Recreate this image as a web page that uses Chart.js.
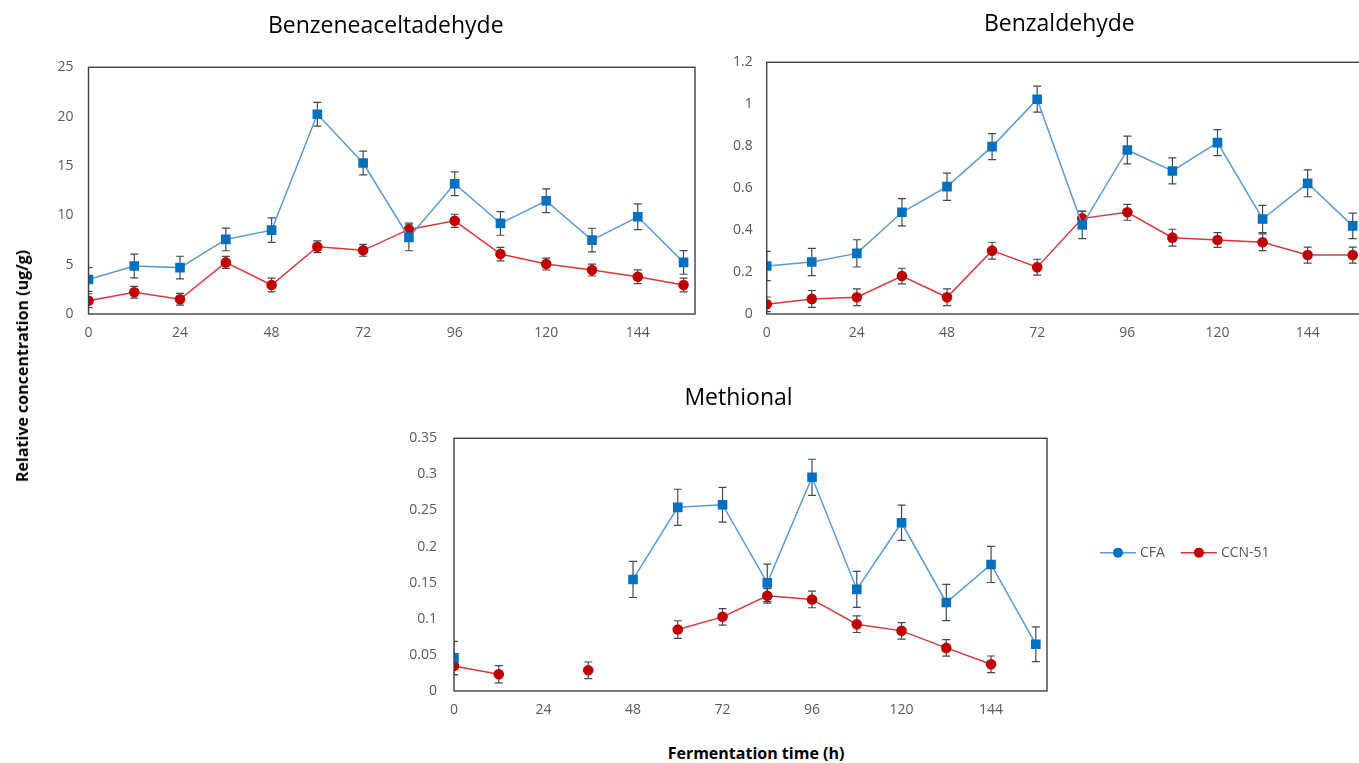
<!DOCTYPE html>
<html>
<head>
<meta charset="utf-8">
<script src="https://cdn.jsdelivr.net/npm/chart.js@4.4.1/dist/chart.umd.min.js"></script>
<style>
  html, body { margin: 0; padding: 0; background: #fff; }
  body { width: 1359px; height: 763px; position: relative; overflow: hidden; font-family: "Open Sans", sans-serif; }
  canvas { position: absolute; }
  .axis-title { position: absolute; font-weight: bold; font-size: 16px; color: #000; white-space: nowrap; }
  #ytitle { left: 22px; top: 366px; transform: translate(-50%, -50%) rotate(-90deg); }
  #xtitle { left: 756px; top: 753px; transform: translate(-50%, -50%); }
</style>
</head>
<body>
<canvas id="c1" width="720" height="350" style="left:0px;top:0px"></canvas>
<canvas id="c2" width="710" height="350" style="left:680px;top:0px"></canvas>
<canvas id="c3" width="979" height="357" style="left:380px;top:370px"></canvas>
<div class="axis-title" id="ytitle">Relative concentration (ug/g)</div>
<div class="axis-title" id="xtitle">Fermentation time (h)</div>
<script>
// sampling times (h)
const hours = [0, 12, 24, 36, 48, 60, 72, 84, 96, 108, 120, 132, 144, 156]
const xTicks = [0, 24, 48, 72, 96, 120, 144]

// Benzeneaceltadehyde
const bzaCFA = [3.5, 4.86, 4.7, 7.56, 8.5, 20.24, 15.3, 7.76, 13.2, 9.18, 11.47, 7.49, 9.85, 5.23]
const bzaCFAerr = [1.2, 1.2, 1.15, 1.15, 1.25, 1.2, 1.2, 1.35, 1.2, 1.2, 1.2, 1.2, 1.3, 1.2]
const bzaCCN = [1.35, 2.2, 1.49, 5.23, 2.94, 6.81, 6.45, 8.57, 9.44, 6.07, 5.06, 4.45, 3.78, 2.94]
const bzaCCNerr = [0.7, 0.6, 0.6, 0.6, 0.7, 0.6, 0.6, 0.65, 0.67, 0.68, 0.6, 0.6, 0.7, 0.7]

// Benzaldehyde
const bzCFA = [0.229, 0.248, 0.289, 0.485, 0.607, 0.798, 1.024, 0.424, 0.782, 0.682, 0.817, 0.453, 0.623, 0.42]
const bzCFAerr = [0.07, 0.065, 0.065, 0.065, 0.065, 0.062, 0.062, 0.065, 0.066, 0.062, 0.062, 0.065, 0.064, 0.061]
const bzCCN = [0.046, 0.072, 0.08, 0.181, 0.08, 0.302, 0.223, 0.456, 0.485, 0.364, 0.353, 0.342, 0.281, 0.281]
const bzCCNerr = [0.035, 0.04, 0.04, 0.037, 0.04, 0.04, 0.038, 0.035, 0.038, 0.04, 0.035, 0.04, 0.038, 0.038]

// Methional
const meCFA = [0.0458, null, null, null, 0.1545, 0.2544, 0.258, 0.1498, 0.296, 0.1407, 0.233, 0.1226, 0.1753, 0.0648]
const meCFAerr = [0.023, 0, 0, 0, 0.025, 0.025, 0.024, 0.026, 0.025, 0.025, 0.0245, 0.025, 0.025, 0.024]
const meCCN = [0.0347, 0.0232, null, 0.0287, null, 0.0851, 0.1027, 0.1318, 0.1268, 0.0925, 0.0833, 0.0597, 0.037, null]
const meCCNerr = [0.012, 0.012, 0, 0.0115, 0, 0.0122, 0.0115, 0.01, 0.0115, 0.0115, 0.0115, 0.0115, 0.0115, 0]

const seriesNames = ['CFA', 'CCN-51']
const lineColors = ['#5b9bd5', '#d9383a']
const markColors = ['#0070c0', '#c00000']
const TICK_COLOR = '#595959'
const FONT = '"Open Sans", sans-serif'

function toPoints(vals) {
    return hours.map((h, i) => ({x: h, y: vals[i]}))
}

// error bars + plot frame, drawn from the chart's scales
const errorBars = {
    id: 'errorBars',
    afterLayout(chart, args, opts) {
        // Excel puts the panel titles a little left of the plot centre
        if (chart.titleBlock && opts.shift) {
            chart.titleBlock.left += opts.shift
            chart.titleBlock.right += opts.shift
        }
    },
    beforeDatasetsDraw(chart) {
        const ctx = chart.ctx
        const xs = chart.scales.x, ys = chart.scales.y
        const a = chart.chartArea
        ctx.save()
        ctx.beginPath()
        ctx.rect(a.left, a.top, a.right - a.left, a.bottom - a.top)
        ctx.clip()
        ctx.strokeStyle = '#404a55'
        ctx.lineWidth = 1.2
        chart.data.datasets.forEach(function (ds) {
            ds.data.forEach(function (p, j) {
                if (p.y === null) return
                const e = ds.errors[j]
                const px = xs.getPixelForValue(p.x)
                const y1 = ys.getPixelForValue(p.y - e)
                const y2 = ys.getPixelForValue(p.y + e)
                ctx.beginPath()
                ctx.moveTo(px, y1); ctx.lineTo(px, y2)
                ctx.moveTo(px - 4, y1); ctx.lineTo(px + 4, y1)
                ctx.moveTo(px - 4, y2); ctx.lineTo(px + 4, y2)
                ctx.stroke()
            })
        })
        ctx.restore()
    },
    afterDraw(chart) {
        const ctx = chart.ctx
        const a = chart.chartArea
        ctx.save()
        ctx.strokeStyle = '#404040'
        ctx.lineWidth = 1.4
        ctx.strokeRect(a.left, a.top, a.right - a.left, a.bottom - a.top)
        ctx.restore()
    }
}

// legend row (CFA / CCN-51) to the right of the Methional panel
const sideLegend = {
    id: 'sideLegend',
    afterDraw(chart, args, opts) {
        if (!opts.show) return
        const ctx = chart.ctx
        const a = chart.chartArea
        let x = a.right + 53
        const y = (a.top + a.bottom) / 2 - 12
        ctx.save()
        ctx.font = '14px ' + FONT
        ctx.textBaseline = 'middle'
        chart.data.datasets.forEach(function (ds) {
            ctx.strokeStyle = ds.borderColor
            ctx.lineWidth = 1.5
            ctx.beginPath(); ctx.moveTo(x, y); ctx.lineTo(x + 36, y); ctx.stroke()
            ctx.fillStyle = ds.pointBackgroundColor
            ctx.beginPath(); ctx.arc(x + 18, y, 5, 0, Math.PI * 2); ctx.fill()
            ctx.fillStyle = TICK_COLOR
            ctx.fillText(ds.label, x + 40, y)
            x += 40 + ctx.measureText(ds.label).width + 16
        })
        ctx.restore()
    }
}

function makeChart(id, title, cfa, cfaErr, ccn, ccnErr, yMax, yStep, o) {
    const datasets = [[cfa, cfaErr, 'rect', 6.8], [ccn, ccnErr, 'circle', 5.3]].map(function (s, k) {
        return {
            label: seriesNames[k],
            data: toPoints(s[0]),
            errors: s[1],
            borderColor: lineColors[k],
            borderWidth: 1.5,
            pointStyle: s[2],
            pointRadius: s[3],
            pointHoverRadius: s[3],
            pointBackgroundColor: markColors[k],
            pointBorderColor: markColors[k],
            pointBorderWidth: 0,
            tension: 0
        }
    })
    return new Chart(document.getElementById(id), {
        type: 'line',
        data: {datasets: datasets},
        options: {
            responsive: false,
            animation: false,
            devicePixelRatio: 1,
            layout: {padding: {left: 0, right: o.padRight, top: 0, bottom: 0}},
            plugins: {
                legend: {display: false},
                tooltip: {enabled: false},
                title: {
                    display: true,
                    text: title,
                    fullSize: false,
                    color: '#000',
                    font: {family: FONT, size: 23, weight: 'normal', lineHeight: 1.1},
                    padding: {top: o.titleTop, bottom: o.titleBottom}
                },
                errorBars: {shift: o.titleShift},
                sideLegend: {show: !!o.legend}
            },
            scales: {
                x: {
                    type: 'linear',
                    min: 0,
                    max: 159,
                    afterBuildTicks: function (axis) { axis.ticks = xTicks.map(v => ({value: v})) },
                    afterFit: function (axis) { axis.height = 36 },
                    grid: {display: false, drawTicks: false},
                    border: {display: false},
                    ticks: {color: TICK_COLOR, padding: 11, maxRotation: 0, font: {family: FONT, size: 14}}
                },
                y: {
                    min: 0,
                    max: yMax,
                    afterFit: function (axis) { axis.width = o.yWidth },
                    grid: {display: false, drawTicks: false},
                    border: {display: false},
                    ticks: {
                        stepSize: yStep, color: TICK_COLOR, padding: o.yPad,
                        font: {family: FONT, size: 14},
                        callback: function (v) { return String(+v.toFixed(3)) }
                    }
                }
            }
        },
        plugins: [errorBars, sideLegend]
    })
}

makeChart('c1', 'Benzeneaceltadehyde', bzaCFA, bzaCFAerr, bzaCCN, bzaCCNerr, 25, 5,
    {padRight: 25, yWidth: 88.5, yPad: 15, titleTop: 14, titleBottom: 28, titleShift: -6})
makeChart('c2', 'Benzaldehyde', bzCFA, bzCFAerr, bzCCN, bzCCNerr, 1.2, 0.2,
    {padRight: 26, yWidth: 86.7, yPad: 14, titleTop: 12, titleBottom: 25, titleShift: -6})
makeChart('c3', 'Methional', meCFA, meCFAerr, meCCN, meCCNerr, 0.35, 0.05,
    {padRight: 312, yWidth: 74, yPad: 17, titleTop: 16, titleBottom: 27, titleShift: -12, legend: true})
</script>
</body>
</html>
